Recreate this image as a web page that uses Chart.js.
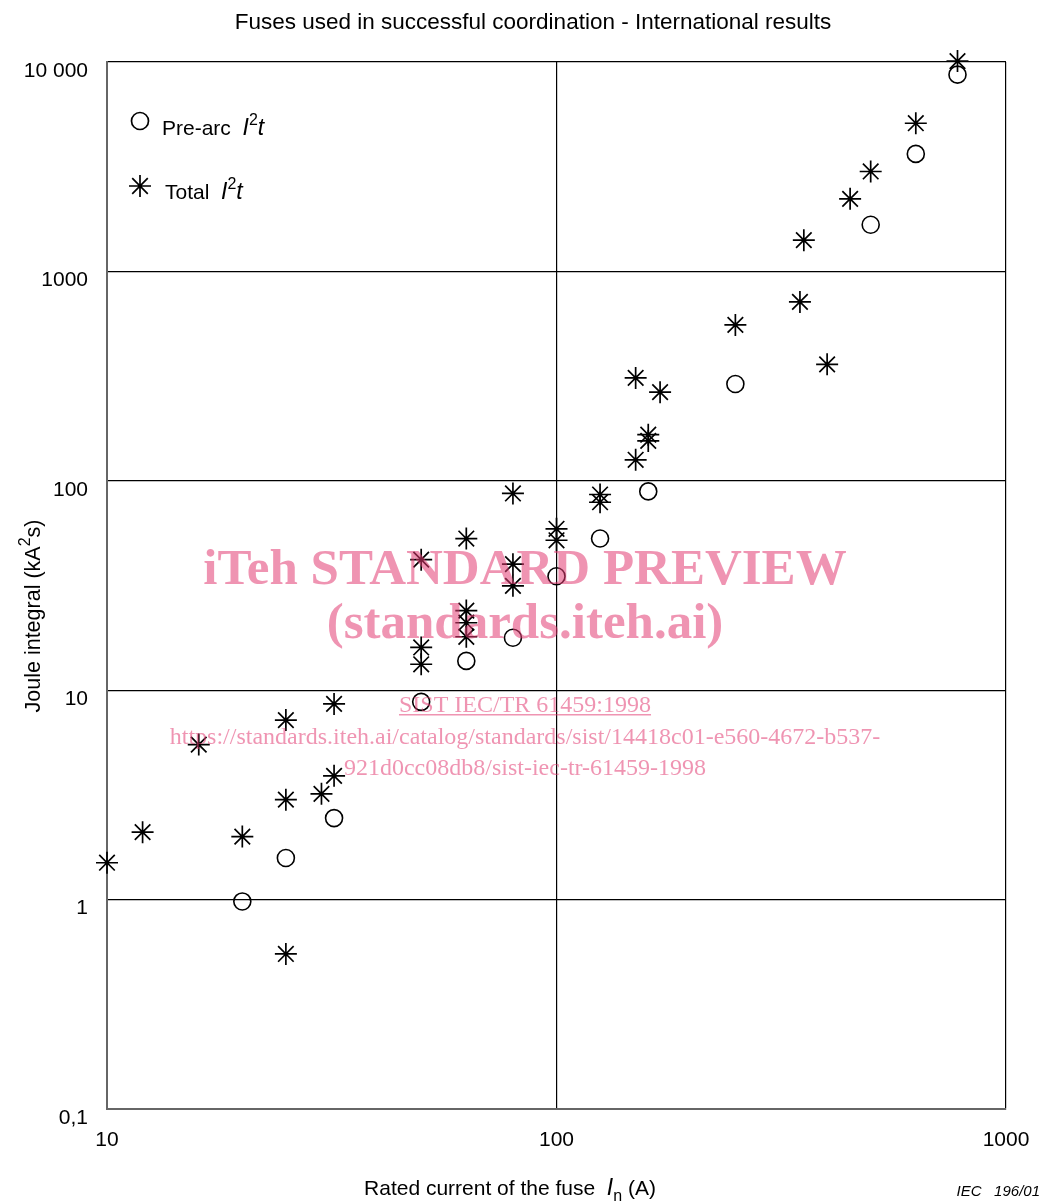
<!DOCTYPE html>
<html><head><meta charset="utf-8">
<script src="https://cdn.jsdelivr.net/npm/chart.js@4/dist/chart.umd.min.js"></script>
<style>html,body{margin:0;padding:0;background:#fff}#wrap{width:1050px;height:1202px;position:relative}</style>
</head><body><div id="wrap"><canvas id="c" width="1050" height="1202"></canvas></div>
<script>
// ---- data (rated current in A, Joule integral in kA²s) ----
const preArcCurrent = [20, 25, 32, 50, 63, 80, 100, 125, 160, 250, 500, 630, 780];
const preArcI2t     = [0.98, 1.58, 2.45, 8.8, 13.8, 17.8, 35, 53, 89, 290, 1670, 3640, 8700];
const totalCurrent  = [10, 12, 16, 20, 25, 25, 25, 30, 32, 32, 50, 50, 50, 63, 63, 63, 63, 80, 80, 80, 100, 100, 125, 125, 150, 150, 160, 160, 170, 250, 348, 355, 400, 450, 500, 630, 780];
const totalI2t      = [1.5, 2.1, 5.5, 2.0, 7.2, 3.0, 0.55, 3.2, 8.6, 3.9, 42, 16, 13.3, 53, 24, 21, 18, 87, 40, 31.5, 59, 52, 86, 79, 126, 310, 166, 155, 265, 555, 715, 1410, 360, 2220, 3000, 5100, 10100];
const xTicks = [10, 100, 1000];
const xTickLabels = ['10', '100', '1000'];
const yTicks = [0.1, 1, 10, 100, 1000, 10000];
const yTickLabels = ['0,1', '1', '10', '100', '1000', '10 000'];

const FONT = "'Liberation Sans', Arial, sans-serif";
const SERIF = "'Liberation Serif', 'Times New Roman', serif";

function drawRuns(ctx, runs, x, y, align) {
  let total = 0;
  runs.forEach(r => { ctx.font = r.font; r.w = ctx.measureText(r.t).width; total += r.w; });
  let cx = align === 'center' ? x - total / 2 : (align === 'right' ? x - total : x);
  ctx.textAlign = 'left';
  ctx.textBaseline = 'alphabetic';
  runs.forEach(r => { ctx.font = r.font; ctx.fillText(r.t, cx, y + (r.dy || 0)); cx += r.w; });
}
function star(ctx, x, y, r) {
  ctx.beginPath();
  ctx.moveTo(x - r, y); ctx.lineTo(x + r, y);
  ctx.moveTo(x, y - r); ctx.lineTo(x, y + r);
  const d = r * Math.SQRT1_2;
  ctx.moveTo(x - d, y - d); ctx.lineTo(x + d, y + d);
  ctx.moveTo(x - d, y + d); ctx.lineTo(x + d, y - d);
  ctx.stroke();
}

const overlay = {
  id: 'overlay',
  afterDatasetsDraw(chart) {
    const ctx = chart.ctx;
    ctx.save();
    ctx.fillStyle = '#000'; ctx.strokeStyle = '#000'; ctx.lineWidth = 1.7;
    // legend
    ctx.beginPath(); ctx.arc(140, 121, 8.5, 0, Math.PI * 2); ctx.stroke();
    drawRuns(ctx, [
      {t: 'Pre-arc  ', font: '21px ' + FONT},
      {t: 'I', font: 'italic 23px ' + FONT},
      {t: '2', font: '16px ' + FONT, dy: -10},
      {t: 't', font: 'italic 23px ' + FONT}
    ], 162, 135, 'left');
    star(ctx, 140, 186, 11);
    drawRuns(ctx, [
      {t: 'Total  ', font: '21px ' + FONT},
      {t: 'I', font: 'italic 23px ' + FONT},
      {t: '2', font: '16px ' + FONT, dy: -10},
      {t: 't', font: 'italic 23px ' + FONT}
    ], 165, 199, 'left');
    // watermark
    ctx.fillStyle = 'rgba(225,60,115,0.55)';
    ctx.textAlign = 'center'; ctx.textBaseline = 'alphabetic';
    ctx.font = 'bold 51px ' + SERIF;
    ctx.fillText('iTeh STANDARD PREVIEW', 525, 584);
    ctx.fillText('(standards.iteh.ai)', 525, 638);
    ctx.font = '24px ' + SERIF;
    const s = 'SIST IEC/TR 61459:1998';
    ctx.fillText(s, 525, 712);
    const w = ctx.measureText(s).width;
    ctx.fillRect(525 - w / 2, 714, w, 1.5);
    ctx.fillText('https://standards.iteh.ai/catalog/standards/sist/14418c01-e560-4672-b537-', 525, 744);
    ctx.fillText('921d0cc08db8/sist-iec-tr-61459-1998', 525, 775);
    ctx.restore();
  },
  afterDraw(chart) {
    const ctx = chart.ctx;
    ctx.save();
    ctx.fillStyle = '#000';
    ctx.textAlign = 'center'; ctx.textBaseline = 'middle';
    ctx.font = '22.5px ' + FONT;
    ctx.fillText('Fuses used in successful coordination - International results', 533, 23);
    drawRuns(ctx, [
      {t: 'Rated current of the fuse  ', font: '21px ' + FONT},
      {t: 'I', font: 'italic 23px ' + FONT},
      {t: 'n', font: '16px ' + FONT, dy: 6},
      {t: ' (A)', font: '21px ' + FONT}
    ], 510, 1195, 'center');
    ctx.save();
    ctx.translate(40, 616);
    ctx.rotate(-Math.PI / 2);
    drawRuns(ctx, [
      {t: 'Joule integral (kA', font: '21.5px ' + FONT},
      {t: '2', font: '16px ' + FONT, dy: -10},
      {t: 's)', font: '21.5px ' + FONT}
    ], 0, 0, 'center');
    ctx.restore();
    drawRuns(ctx, [{t: 'IEC   196/01', font: 'italic 15px ' + FONT}], 1040, 1196, 'right');
    ctx.restore();
  }
};

new Chart(document.getElementById('c').getContext('2d'), {
  type: 'scatter',
  data: {
    datasets: [
      {
        label: 'Pre-arc I²t',
        data: preArcCurrent.map((x, i) => ({x: x, y: preArcI2t[i]})),
        pointStyle: 'circle', pointRadius: 8.5, pointHoverRadius: 8.5,
        borderColor: '#000', backgroundColor: 'rgba(0,0,0,0)', borderWidth: 1.6, clip: false
      },
      {
        label: 'Total I²t',
        data: totalCurrent.map((x, i) => ({x: x, y: totalI2t[i]})),
        pointStyle: 'star', pointRadius: 11, pointHoverRadius: 11,
        borderColor: '#000', backgroundColor: '#000', borderWidth: 1.7, clip: false
      }
    ]
  },
  options: {
    responsive: false, animation: false, devicePixelRatio: 1,
    layout: {padding: {left: 0, right: 44, top: 62, bottom: 0}},
    plugins: {legend: {display: false}, title: {display: false}, tooltip: {enabled: false}},
    scales: {
      x: {
        type: 'logarithmic', min: 10, max: 1000,
        afterBuildTicks: s => { s.ticks = xTicks.map(v => ({value: v, major: true})); },
        afterFit: s => { s.height = 93; },
        grid: {color: '#000', lineWidth: 1.2, drawTicks: false},
        border: {color: '#666', width: 2},
        ticks: {padding: 19, color: '#000', font: {family: FONT, size: 21}, maxRotation: 0, autoSkip: false,
                callback: (v, i) => xTickLabels[i]}
      },
      y: {
        type: 'logarithmic', min: 0.1, max: 10000,
        afterBuildTicks: s => { s.ticks = yTicks.map(v => ({value: v, major: true})); },
        afterFit: s => { s.width = 107; },
        grid: {color: '#000', lineWidth: 1.2, drawTicks: false},
        border: {color: '#666', width: 2},
        ticks: {padding: 19, labelOffset: 9, color: '#000', font: {family: FONT, size: 21}, autoSkip: false,
                callback: (v, i) => yTickLabels[i]}
      }
    }
  },
  plugins: [overlay]
});
</script></body></html>
